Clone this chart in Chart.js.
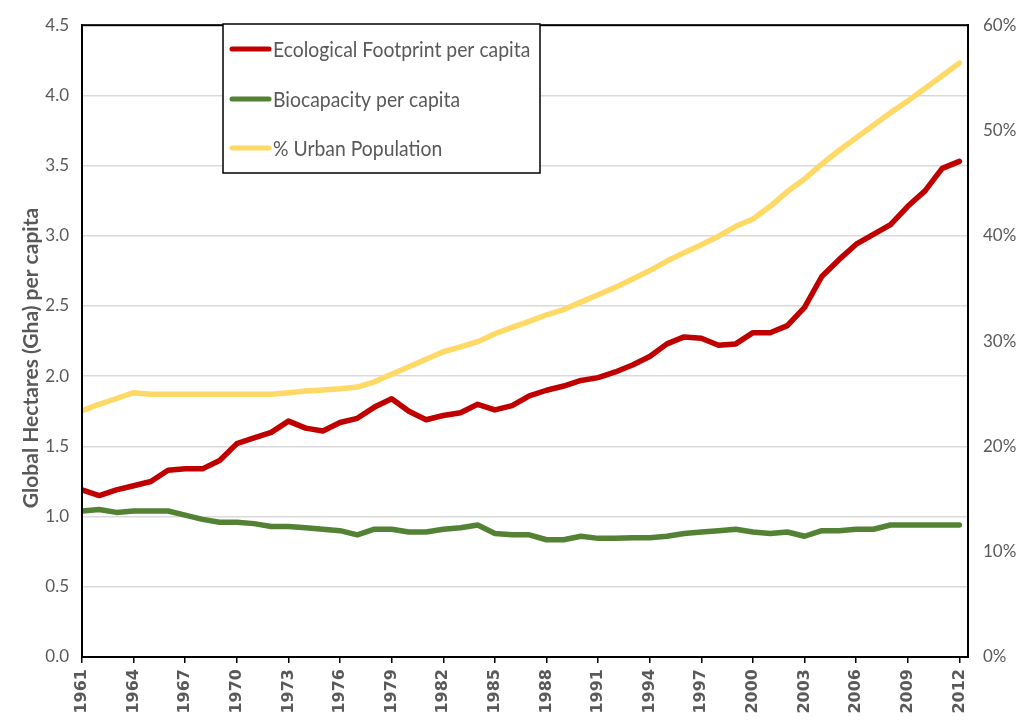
<!DOCTYPE html>
<html>
<head>
<meta charset="utf-8">
<script src="https://cdn.jsdelivr.net/npm/chart.js@4.4.0/dist/chart.umd.min.js"></script>
<style>
  body { margin: 0; background: #fff; }
  canvas { display: block; }
</style>
</head>
<body>
<canvas id="myChart" width="1028" height="728"></canvas>
<script>
// years on the x axis
var years = [1961,1962,1963,1964,1965,1966,1967,1968,1969,1970,
  1971,1972,1973,1974,1975,1976,1977,1978,1979,1980,
  1981,1982,1983,1984,1985,1986,1987,1988,1989,1990,
  1991,1992,1993,1994,1995,1996,1997,1998,1999,2000,
  2001,2002,2003,2004,2005,2006,2007,2008,2009,2010,
  2011,2012];
var tickYears = [1961,1964,1967,1970,1973,1976,1979,1982,1985,1988,1991,1994,1997,2000,2003,2006,2009,2012];
var leftTicks = [0,0.5,1,1.5,2,2.5,3,3.5,4,4.5];
var rightTicks = [0,10,20,30,40,50,60];

// Gha per capita
var footprint = [1.19,1.15,1.19,1.22,1.25,1.33,1.34,1.34,1.40,1.52,
  1.56,1.60,1.68,1.63,1.61,1.67,1.70,1.78,1.84,1.75,
  1.69,1.72,1.74,1.80,1.76,1.79,1.86,1.90,1.93,1.97,
  1.99,2.03,2.08,2.14,2.23,2.28,2.27,2.22,2.23,2.31,
  2.31,2.36,2.49,2.71,2.83,2.94,3.01,3.08,3.21,3.32,
  3.48,3.53];
var biocapacity = [1.04,1.05,1.03,1.04,1.04,1.04,1.01,0.98,0.96,0.96,
  0.95,0.93,0.93,0.92,0.91,0.90,0.87,0.91,0.91,0.89,
  0.89,0.91,0.92,0.94,0.88,0.87,0.87,0.835,0.835,0.86,
  0.845,0.845,0.85,0.85,0.86,0.88,0.89,0.90,0.91,0.89,
  0.88,0.89,0.86,0.90,0.90,0.91,0.91,0.94,0.94,0.94,
  0.94,0.94];
// % urban population (right axis)
var urban = [23.4,24.0,24.55,25.1,24.95,24.95,24.95,24.95,24.95,24.95,
  24.95,24.95,25.1,25.27,25.36,25.48,25.64,26.13,26.85,27.56,
  28.27,28.99,29.45,29.95,30.7,31.3,31.87,32.5,33.0,33.7,
  34.4,35.1,35.9,36.7,37.6,38.4,39.15,39.96,40.9,41.6,
  42.8,44.2,45.4,46.8,48.1,49.3,50.5,51.7,52.8,54.0,
  55.2,56.4];

var seriesNames = ["Ecological Footprint per capita", "Biocapacity per capita", "% Urban Population"];
var seriesColors = ["#C00000", "#548235", "#FFD966"];

function pts(vals) {
  var out = [];
  for (var i = 0; i < years.length; i++) out.push({x: years[i], y: vals[i]});
  return out;
}

var gray = "#595959";

// box round the plot, y title and the boxed legend
var extras = {
  id: "extras",
  afterDraw: function(chart) {
    var ctx = chart.ctx, a = chart.chartArea;
    ctx.save();
    ctx.strokeStyle = "#000";
    ctx.lineWidth = 2;
    ctx.strokeRect(a.left, a.top, a.right - a.left, a.bottom - a.top);

    ctx.translate(31, 358);
    ctx.rotate(-Math.PI / 2);
    ctx.fillStyle = gray;
    ctx.font = "bold 21px Lato";
    ctx.textAlign = "center";
    ctx.textBaseline = "middle";
    ctx.fillText("Global Hectares (Gha) per capita", 0, 0);
    ctx.restore();

    ctx.save();
    ctx.fillStyle = "#fff";
    ctx.fillRect(223, 24, 317, 149);
    ctx.strokeStyle = "#000";
    ctx.lineWidth = 1.5;
    ctx.strokeRect(223, 24, 317, 149);
    var rows = [49, 99, 148];
    chart.data.datasets.forEach(function(ds, i) {
      ctx.strokeStyle = ds.borderColor;
      ctx.lineWidth = 5;
      ctx.lineCap = "round";
      ctx.beginPath();
      ctx.moveTo(232, rows[i]);
      ctx.lineTo(269, rows[i]);
      ctx.stroke();
      ctx.save();
      ctx.translate(273, rows[i] + 1);
      ctx.scale(0.88, 1);
      ctx.font = "22px Lato";
      ctx.textBaseline = "middle";
      ctx.textAlign = "left";
      ctx.fillStyle = gray;
      ctx.fillText(ds.label, 0, 0);
      ctx.restore();
    });
    ctx.restore();
  }
};

new Chart("myChart", {
  type: "line",
  data: {
    datasets: [{
      label: seriesNames[0],
      data: pts(footprint),
      borderColor: seriesColors[0],
      yAxisID: "y"
    },{
      label: seriesNames[1],
      data: pts(biocapacity),
      borderColor: seriesColors[1],
      yAxisID: "y"
    },{
      label: seriesNames[2],
      data: pts(urban),
      borderColor: seriesColors[2],
      yAxisID: "y2"
    }]
  },
  options: {
    responsive: false,
    animation: false,
    layout: {padding: {top: 12, left: 0, right: 0, bottom: 0}},
    elements: {
      line: {borderWidth: 5.5, tension: 0, fill: false, borderCapStyle: "round", borderJoinStyle: "round"},
      point: {radius: 0, hoverRadius: 0}
    },
    plugins: {legend: {display: false}, tooltip: {enabled: false}},
    scales: {
      x: {
        type: "linear",
        min: 1961,
        max: 2012.5,
        afterBuildTicks: function(s) { s.ticks = tickYears.map(function(v) { return {value: v}; }); },
        afterFit: function(s) { s.height = 71; },
        ticks: {
          autoSkip: false, maxRotation: 90, minRotation: 90, padding: 6, color: gray,
          font: {family: "DejaVu Sans", weight: "bold", size: 16},
          callback: function(v) { return String(v); }
        },
        grid: {drawOnChartArea: false, color: "#000", lineWidth: 1.5, tickLength: 6},
        border: {color: "#000", width: 2}
      },
      y: {
        position: "left",
        min: 0, max: 4.5,
        afterBuildTicks: function(s) { s.ticks = leftTicks.map(function(v) { return {value: v}; }); },
        afterFit: function(s) { s.width = 82; },
        ticks: {
          padding: 13, color: gray,
          font: {family: "Lato", size: 17},
          callback: function(v) { return v.toFixed(1); }
        },
        grid: {color: "#d9d9d9", lineWidth: 1.5, drawTicks: false},
        border: {color: "#000", width: 2}
      },
      y2: {
        position: "right",
        min: 0, max: 60,
        afterBuildTicks: function(s) { s.ticks = rightTicks.map(function(v) { return {value: v}; }); },
        afterFit: function(s) { s.width = 60; },
        ticks: {
          padding: 15, color: gray,
          font: {family: "Lato", size: 17},
          callback: function(v) { return v + "%"; }
        },
        grid: {drawOnChartArea: false, drawTicks: false},
        border: {color: "#000", width: 2}
      }
    }
  },
  plugins: [extras]
});
</script>
</body>
</html>
